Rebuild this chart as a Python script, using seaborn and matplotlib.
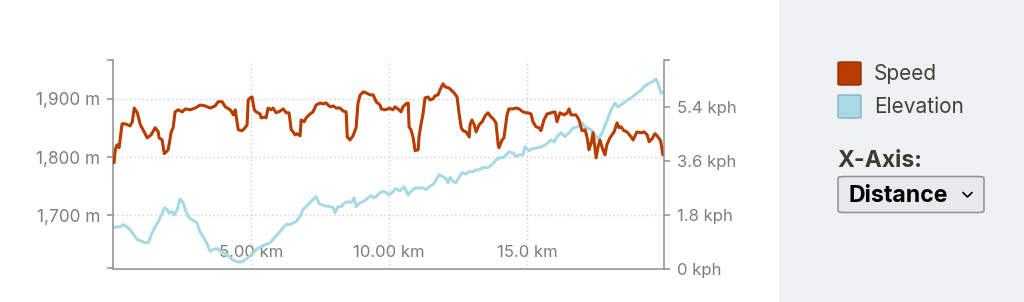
import matplotlib
matplotlib.use("Agg")
import matplotlib.pyplot as plt
from matplotlib.patches import Rectangle, FancyBboxPatch
from matplotlib.lines import Line2D
import seaborn as sns
import pandas as pd

# ---------------- data ----------------
speed_km = [0.04, 0.08, 0.15, 0.22, 0.33, 0.44, 0.62, 0.70, 0.77, 0.88, 0.99, 1.09, 1.24, 1.38, 1.53,
            1.64, 1.67, 1.78, 1.86, 2.00, 2.11, 2.18, 2.25, 2.36, 2.51, 2.62, 2.80, 2.98, 3.16, 3.34,
            3.52, 3.70, 3.81, 3.96, 4.07, 4.25, 4.36, 4.43, 4.54, 4.68, 4.79, 4.86, 4.90, 4.97, 5.04,
            5.12, 5.19, 5.33, 5.37, 5.51, 5.55, 5.62, 5.73, 5.80, 5.91, 6.06, 6.17, 6.28, 6.38, 6.46,
            6.53, 6.60, 6.67, 6.78, 6.82, 6.93, 7.00, 7.14, 7.25, 7.36, 7.51, 7.62, 7.72, 7.87, 7.98,
            8.09, 8.23, 8.34, 8.45, 8.49, 8.59, 8.70, 8.81, 8.88, 8.96, 9.07, 9.17, 9.32, 9.43, 9.54,
            9.68, 9.72, 9.86, 9.97, 10.01, 10.15, 10.22, 10.37, 10.44, 10.51, 10.62, 10.70, 10.73, 10.80,
            10.88, 10.95, 11.06, 11.09, 11.16, 11.23, 11.31, 11.42, 11.49, 11.60, 11.67, 11.78, 11.85,
            11.96, 12.04, 12.18, 12.29, 12.36, 12.47, 12.54, 12.62, 12.69, 12.80, 12.91, 12.94, 13.01,
            13.09, 13.16, 13.27, 13.38, 13.49, 13.59, 13.70, 13.78, 13.88, 13.96, 13.99, 14.10, 14.17,
            14.28, 14.35, 14.50, 14.61, 14.72, 14.86, 14.97, 15.04, 15.15, 15.22, 15.33, 15.44, 15.51,
            15.62, 15.73, 15.88, 16.02, 16.09, 16.20, 16.35, 16.46, 16.53, 16.60, 16.78, 16.89, 17.00,
            17.11, 17.18, 17.25, 17.33, 17.40, 17.51, 17.58, 17.65, 17.72, 17.83, 17.90, 18.01, 18.16,
            18.27, 18.34, 18.41, 18.52, 18.63, 18.78, 18.85, 18.99, 19.14, 19.25, 19.36, 19.43, 19.54,
            19.64, 19.72, 19.83, 19.86, 19.93]
speed_kph = [3.55, 3.98, 4.15, 4.05, 4.85, 4.85, 4.78, 4.92, 5.38, 5.22, 4.82, 4.65, 4.38, 4.48, 4.72,
             4.58, 4.38, 4.31, 3.85, 3.98, 4.58, 4.72, 5.25, 5.32, 5.25, 5.35, 5.32, 5.38, 5.48, 5.45,
             5.38, 5.45, 5.59, 5.59, 5.42, 5.32, 5.15, 5.32, 4.65, 4.62, 4.72, 4.82, 5.65, 5.72, 5.75,
             5.32, 5.25, 5.18, 5.05, 5.08, 5.05, 5.38, 5.32, 5.38, 5.22, 5.28, 5.35, 5.22, 5.22, 4.65,
             4.58, 4.48, 4.52, 4.45, 4.98, 4.92, 5.05, 5.18, 5.25, 5.48, 5.55, 5.52, 5.55, 5.42, 5.45,
             5.38, 5.38, 5.28, 5.25, 4.41, 4.31, 4.45, 4.72, 5.55, 5.82, 5.92, 5.89, 5.82, 5.82, 5.59,
             5.48, 5.35, 5.32, 5.35, 5.38, 5.32, 5.42, 5.32, 5.25, 5.42, 5.52, 5.55, 4.75, 4.65,
             4.38, 3.95, 3.98, 4.41, 4.82, 5.15, 5.72, 5.75, 5.65, 5.69, 5.79, 5.82, 5.99,
             6.19, 6.09, 6.05, 5.95, 5.89, 5.75, 5.22, 4.72, 4.62, 4.58, 4.41, 4.82, 4.98,
             4.82, 4.58, 4.82, 4.92, 5.12, 5.22, 5.08, 5.02, 4.88, 4.15, 4.05, 4.31, 4.38,
             5.15, 5.35, 5.35, 5.38, 5.35, 5.25, 5.22, 5.22, 5.18, 4.92, 4.75, 4.72, 4.62,
             4.98, 5.18, 5.22, 5.25, 4.92, 5.22, 5.15, 5.22, 5.35, 5.15, 5.15, 4.98, 4.62,
             4.65, 4.41, 3.98, 4.21, 4.55, 3.71, 4.08, 4.31, 4.08, 3.81, 4.15, 4.38, 4.58,
             4.88, 4.72, 4.75, 4.62, 4.58, 4.41, 4.31, 4.58, 4.55, 4.58, 4.48, 4.25, 4.35,
             4.52, 4.45, 4.31, 4.21, 3.81]

elev_km = [0.01, 0.15, 0.26, 0.37, 0.51, 0.62, 0.73, 0.88, 1.06, 1.17, 1.28, 1.42, 1.53, 1.64, 1.78,
           1.86, 1.96, 2.04, 2.14, 2.22, 2.33, 2.43, 2.54, 2.65, 2.76, 2.87, 2.98, 3.05, 3.12, 3.27,
           3.41, 3.52, 3.63, 3.78, 3.89, 4.00, 4.14, 4.32, 4.50, 4.68, 4.86, 5.01, 5.19, 5.37, 5.55,
           5.70, 5.88, 6.06, 6.17, 6.28, 6.42, 6.53, 6.64, 6.78, 6.89, 7.00, 7.14, 7.25, 7.36, 7.47,
           7.58, 7.69, 7.87, 7.98, 8.05, 8.16, 8.27, 8.41, 8.52, 8.63, 8.74, 8.81, 8.96, 9.06, 9.17,
           9.35, 9.43, 9.54, 9.68, 9.79, 9.90, 10.01, 10.15, 10.25, 10.40, 10.55, 10.70, 10.80, 10.95,
           11.09, 11.24, 11.35, 11.46, 11.60, 11.71, 11.82, 11.96, 12.07, 12.14, 12.22, 12.33, 12.43,
           12.54, 12.65, 12.80, 12.91, 13.05, 13.16, 13.27, 13.41, 13.59, 13.74, 13.88, 13.99, 14.14,
           14.25, 14.35, 14.50, 14.61, 14.72, 14.86, 14.93, 15.08, 15.19, 15.37, 15.55, 15.73, 15.88,
           15.99, 16.09, 16.24, 16.38, 16.53, 16.67, 16.82, 16.93, 17.00, 17.11, 17.18, 17.33, 17.47,
           17.58, 17.69, 17.80, 17.94, 18.05, 18.20, 18.30, 18.41, 18.56, 18.71, 18.81, 18.99, 19.14,
           19.25, 19.39, 19.54, 19.68, 19.75, 19.86, 19.93]
elev_m = [1679, 1680, 1680, 1684, 1680, 1675, 1668, 1658, 1655, 1653, 1653, 1670, 1680, 1689, 1703,
          1713, 1710, 1704, 1706, 1701, 1710, 1728, 1722, 1706, 1696, 1692, 1689, 1687, 1675, 1663,
          1651, 1638, 1641, 1643, 1638, 1636, 1632, 1624, 1620, 1620, 1626, 1632, 1641, 1646, 1650,
          1653, 1663, 1672, 1679, 1684, 1684, 1687, 1689, 1698, 1710, 1715, 1722, 1727, 1732, 1720,
          1718, 1716, 1715, 1713, 1704, 1715, 1715, 1722, 1723, 1722, 1730, 1715, 1722, 1723, 1727,
          1734, 1730, 1732, 1739, 1741, 1739, 1735, 1741, 1746, 1742, 1749, 1735, 1741, 1747,
          1747, 1747, 1744, 1749, 1753, 1761, 1770, 1766, 1763, 1756, 1765, 1758, 1756,
          1765, 1773, 1771, 1775, 1775, 1778, 1778, 1782, 1782, 1787, 1795, 1799, 1799,
          1804, 1809, 1807, 1801, 1804, 1804, 1818, 1811, 1814, 1816, 1818, 1823, 1830,
          1826, 1835, 1842, 1835, 1842, 1850, 1852, 1855, 1859, 1852, 1850, 1847, 1838,
          1831, 1838, 1850, 1867, 1881, 1893, 1886, 1890, 1895, 1900, 1903, 1910, 1915,
          1921, 1926, 1929, 1934, 1927, 1910, 1912]

x_ticks = [5, 10, 15]
x_tick_labels = ["5.00 km", "10.00 km", "15.0 km"]
elev_ticks = [1700, 1800, 1900]
elev_tick_labels = ["1,700 m", "1,800 m", "1,900 m"]
speed_ticks = [0, 1.8, 3.6, 5.4]
speed_tick_labels = ["0 kph", "1.8 kph", "3.6 kph", "5.4 kph"]
legend_labels = ["Speed", "Elevation"]
selector_title = "X-Axis:"
selector_value = "Distance"

SPEED_C = "#b83c00"
ELEV_C = "#a8dae6"

# ---------------- figure ----------------
sns.set_theme(style="white")
plt.rcParams["font.family"] = ["Inter", "DejaVu Sans"]

W, H = 1024, 302
fig = plt.figure(figsize=(W / 100, H / 100), dpi=100)
fig.patch.set_facecolor("white")

def fx(x):
    return x / W

def fy(y):
    return 1 - y / H

# side panel
fig.patches.append(Rectangle((fx(779), 0), fx(W - 779), 1, transform=fig.transFigure,
                             facecolor="#f0f1f3", edgecolor="none", zorder=-10))

ax_l, ax_r, ax_t, ax_b = 113, 664, 60, 268.5
ax = fig.add_axes([fx(ax_l), fy(ax_b), fx(ax_r - ax_l), (ax_b - ax_t) / H])
ax2 = ax.twinx()

df_e = pd.DataFrame({"km": elev_km, "m": elev_m})
df_s = pd.DataFrame({"km": speed_km, "kph": speed_kph})

sns.lineplot(data=df_e, x="km", y="m", ax=ax, color=ELEV_C, linewidth=2.2,
             estimator=None, sort=False)
sns.lineplot(data=df_s, x="km", y="kph", ax=ax2, color=SPEED_C, linewidth=2.2,
             estimator=None, sort=False)

xmax = 19.97
elo, ehi = 1608.5, 1966.9
shi = 6.99
ax.set_xlim(0, xmax)
ax.set_ylim(elo, ehi)
ax2.set_ylim(0, shi)

for a in (ax, ax2):
    a.set_xlabel("")
    a.set_ylabel("")
    a.patch.set_visible(False)
    for s in a.spines.values():
        s.set_visible(False)

spine_c = "#8d8d8d"
ax.spines["left"].set_visible(True)
ax.spines["bottom"].set_visible(True)
ax2.spines["right"].set_visible(True)
for s in (ax.spines["left"], ax.spines["bottom"], ax2.spines["right"]):
    s.set_color(spine_c)
    s.set_linewidth(1.1)

tick_c = "#7d7d7d"
ax.set_xticks(x_ticks)
ax.set_xticklabels(x_tick_labels)
ax.set_yticks(elev_ticks)
ax.set_yticklabels(elev_tick_labels)
ax.set_yticks([elo, ehi], minor=True)
ax2.set_yticks(speed_ticks)
ax2.set_yticklabels(speed_tick_labels)
ax2.set_yticks([shi], minor=True)

ax.tick_params(axis="y", which="both", left=True, length=4.3, width=1.1, color=spine_c,
               labelcolor=tick_c, labelsize=12.4, pad=5)
ax.tick_params(axis="y", which="minor", labelleft=False)
ax2.tick_params(axis="y", which="both", right=True, length=4.3, width=1.1, color=spine_c,
                labelcolor=tick_c, labelsize=12, pad=5)
ax2.tick_params(axis="y", which="minor", labelright=False)
ax.tick_params(axis="x", bottom=True, direction="in", length=0, labelcolor=tick_c,
               labelsize=12, pad=-17)

ax.grid(True, which="major", color="#cfcfcf", linestyle=(0, (1, 2)), linewidth=1.0)
ax2.grid(False)
ax.set_axisbelow(True)

# ---------------- legend / side panel ----------------
def swatch(x0, y0, x1, y1, fc, ec):
    fig.patches.append(FancyBboxPatch((fx(x0), fy(y1)), fx(x1 - x0), (y1 - y0) / H,
                                      boxstyle="round,pad=0,rounding_size=0.003",
                                      transform=fig.transFigure, facecolor=fc, edgecolor=ec,
                                      linewidth=1.0))

swatch(838, 62, 861, 85, SPEED_C, "#8f2e00")
swatch(838, 95, 861, 118, ELEV_C, "#86b4c0")
fig.text(fx(874), fy(74), legend_labels[0], fontsize=15, color="#404040", va="center", ha="left")
fig.text(fx(874), fy(107), legend_labels[1], fontsize=15, color="#404040", va="center", ha="left")

fig.text(fx(837), fy(161), selector_title, fontsize=16.5, fontweight="bold", color="#3a3a3a",
         va="center", ha="left")
fig.patches.append(FancyBboxPatch((fx(838), fy(212.5)), fx(984 - 838), (212.5 - 176.5) / H,
                                  boxstyle="round,pad=0,rounding_size=0.006",
                                  transform=fig.transFigure, facecolor="#e9e9ed",
                                  edgecolor="#8f8f94", linewidth=1.1))
fig.text(fx(848), fy(195.5), selector_value, fontsize=16.6, fontweight="bold", color="black",
         va="center", ha="left")
fig.lines.append(Line2D([fx(963), fx(967.5), fx(972)], [fy(192.5), fy(197), fy(192.5)],
                        transform=fig.transFigure, color="black", linewidth=1.2))

fig.savefig("out.png", dpi=100, facecolor=fig.get_facecolor())
